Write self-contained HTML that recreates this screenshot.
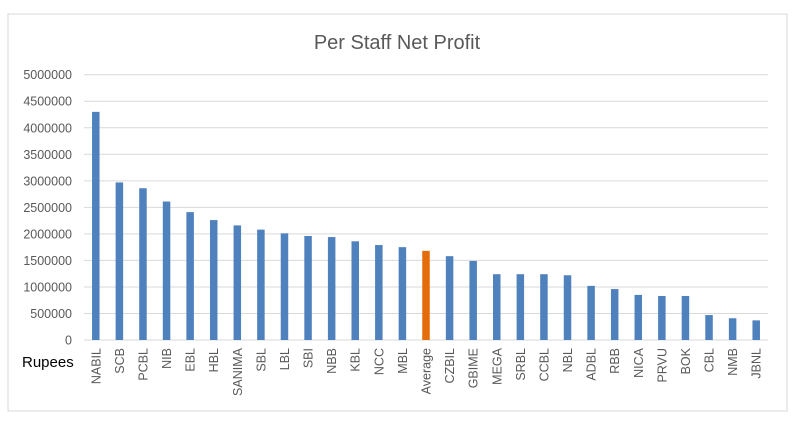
<!DOCTYPE html>
<html><head><meta charset="utf-8"><style>
body{margin:0;background:#fff;width:802px;height:420px;overflow:hidden;font-family:"Liberation Sans",sans-serif}
</style></head><body>
<svg width="802" height="420" id="c">
<rect x="8" y="14" width="779" height="397" fill="#fff" stroke="#d9d9d9"/>
<text x="397" y="49" text-anchor="middle" font-size="20" fill="#595959">Per Staff Net Profit</text>
<text x="22" y="367" font-size="15" fill="#000">Rupees</text>
<g id="grid"></g><g id="bars"></g><g id="labels"></g>
</svg>
<script>
const categories=["NABIL","SCB","PCBL","NIB","EBL","HBL","SANIMA","SBL","LBL","SBI","NBB","KBL","NCC","MBL","Average","CZBIL","GBIME","MEGA","SRBL","CCBL","NBL","ADBL","RBB","NICA","PRVU","BOK","CBL","NMB","JBNL"];
const values=[4300000,2970000,2860000,2610000,2410000,2260000,2160000,2080000,2010000,1960000,1940000,1860000,1790000,1750000,1680000,1580000,1490000,1240000,1240000,1240000,1220000,1020000,960000,850000,830000,830000,470000,410000,370000];
const ticks=[0,500000,1000000,1500000,2000000,2500000,3000000,3500000,4000000,4500000,5000000];
const NS="http://www.w3.org/2000/svg";
const x0=84,x1=768,y0=340,y1=74.7,maxV=5000000;
const y=v=>y0-(v/maxV)*(y0-y1);
const bw=(x1-x0)/categories.length;
const xc=i=>x0+bw*(i+0.5);
const g=document.getElementById('grid'),b=document.getElementById('bars'),l=document.getElementById('labels');
ticks.forEach(t=>{
 const ln=document.createElementNS(NS,'line');
 ln.setAttribute('x1',x0);ln.setAttribute('x2',x1);ln.setAttribute('y1',y(t));ln.setAttribute('y2',y(t));
 ln.setAttribute('stroke','#d9d9d9');ln.setAttribute('stroke-width','1');
 
 
 g.appendChild(ln);
 const tx=document.createElementNS(NS,'text');
 tx.setAttribute('x',72);tx.setAttribute('y',y(t)+4.5);tx.setAttribute('text-anchor','end');
 tx.setAttribute('font-size','12.5');tx.setAttribute('fill','#595959');tx.textContent=t;
 
 
 g.appendChild(tx);
});
categories.forEach((c,i)=>{
 const r=document.createElementNS(NS,'rect');
 r.setAttribute('x',xc(i)-3.75);r.setAttribute('width',7.5);
 r.setAttribute('y',y(values[i]));r.setAttribute('height',y0-y(values[i]));
 r.setAttribute('fill',c==='Average'?'#e46c0a':'#4f81bd');
 
 
 b.appendChild(r);
 const tx=document.createElementNS(NS,'text');
 tx.setAttribute('transform','translate('+(xc(i)+4.5)+',348) rotate(-90)');
 tx.setAttribute('text-anchor','end');tx.setAttribute('font-size','12.5');tx.setAttribute('fill','#595959');
 tx.textContent=c;
 
 
 l.appendChild(tx);
});
</script>
</body></html>
